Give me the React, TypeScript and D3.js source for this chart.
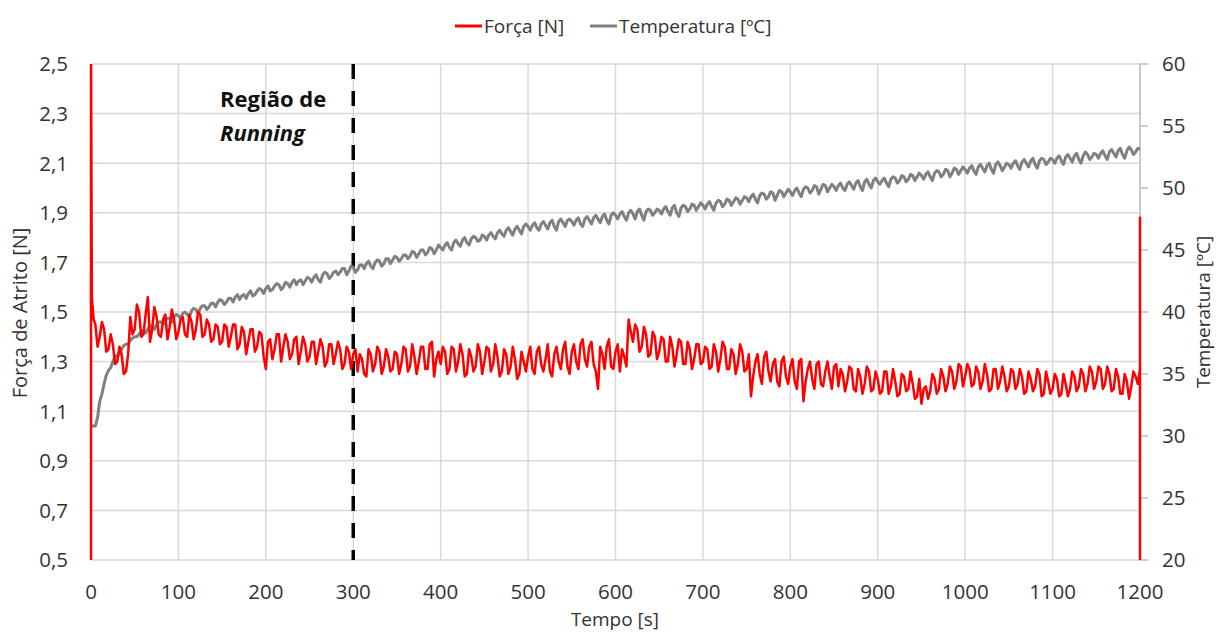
import React from "react";
import * as d3 from "d3";

// ---------- DATA ----------
const xTicks = [0, 100, 200, 300, 400, 500, 600, 700, 800, 900, 1000, 1100, 1200];
const leftTicks = [0.5, 0.7, 0.9, 1.1, 1.3, 1.5, 1.7, 1.9, 2.1, 2.3, 2.5];
const rightTicks = [20, 25, 30, 35, 40, 45, 50, 55, 60];

const sampleStep = 5; // seconds between samples of each list

// Força [N] - edge points at start (time, value)
const forceStartTimes = [0, 0, 1, 3];
const forceStartValues = [0.5, 2.6, 1.56, 1.47];
// Força [N] at t = 5, 10, ..., 1200
const forceValues = [
  1.45, 1.40, 1.43, 1.35, 1.37, 1.30, 1.33, 1.26, 1.48, 1.43,
  1.50, 1.41, 1.56, 1.43, 1.48, 1.40, 1.49, 1.44, 1.47, 1.42,
  1.48, 1.40, 1.46, 1.43, 1.49, 1.41, 1.45, 1.39, 1.44, 1.38,
  1.44, 1.40, 1.45, 1.37, 1.42, 1.38, 1.43, 1.36, 1.41, 1.27,
  1.39, 1.35, 1.41, 1.36, 1.38, 1.33, 1.40, 1.34, 1.37, 1.32,
  1.38, 1.34, 1.36, 1.30, 1.37, 1.33, 1.35, 1.29, 1.34, 1.33,
  1.26, 1.31, 1.24, 1.33, 1.29, 1.34, 1.28, 1.32, 1.27, 1.33,
  1.29, 1.35, 1.28, 1.32, 1.30, 1.36, 1.27, 1.38, 1.31, 1.29,
  1.34, 1.27, 1.35, 1.30, 1.33, 1.25, 1.32, 1.28, 1.34, 1.30,
  1.35, 1.29, 1.32, 1.26, 1.33, 1.28, 1.31, 1.25, 1.30, 1.32,
  1.27, 1.34, 1.29, 1.31, 1.26, 1.33, 1.30, 1.35, 1.28, 1.34,
  1.30, 1.37, 1.31, 1.36, 1.29, 1.19, 1.33, 1.36, 1.28, 1.34,
  1.26, 1.32, 1.47, 1.38, 1.43, 1.36, 1.41, 1.33, 1.40, 1.34,
  1.39, 1.30, 1.36, 1.33, 1.38, 1.29, 1.35, 1.31, 1.37, 1.30,
  1.35, 1.28, 1.34, 1.31, 1.36, 1.27, 1.33, 1.29, 1.34, 1.27,
  1.16, 1.30, 1.25, 1.32, 1.26, 1.29, 1.22, 1.30, 1.24, 1.28,
  1.22, 1.30, 1.14, 1.27, 1.23, 1.29, 1.21, 1.26, 1.24, 1.28,
  1.20, 1.25, 1.22, 1.27, 1.18, 1.24, 1.21, 1.26, 1.19, 1.23,
  1.18, 1.26, 1.20, 1.22, 1.17, 1.24, 1.19, 1.21, 1.16, 1.13,
  1.20, 1.18, 1.23, 1.19, 1.24, 1.21, 1.26, 1.22, 1.28, 1.24,
  1.27, 1.21, 1.26, 1.22, 1.25, 1.19, 1.27, 1.22, 1.24, 1.20,
  1.26, 1.21, 1.24, 1.18, 1.23, 1.20, 1.25, 1.17, 1.22, 1.19,
  1.23, 1.17, 1.21, 1.19, 1.24, 1.20, 1.25, 1.21, 1.26, 1.22,
  1.27, 1.21, 1.25, 1.19, 1.24, 1.17, 1.22, 1.20, 1.24, 1.27,
];
// Força [N] at t = 7.5, 12.5, ..., 1197.5
const forceMidValues = [
  1.36, 1.46, 1.34, 1.41, 1.29, 1.36, 1.25, 1.33, 1.41, 1.53,
  1.40, 1.49, 1.38, 1.52, 1.41, 1.47, 1.39, 1.51, 1.39, 1.47,
  1.41, 1.49, 1.39, 1.50, 1.40, 1.47, 1.38, 1.45, 1.37, 1.45,
  1.36, 1.45, 1.35, 1.44, 1.33, 1.43, 1.34, 1.42, 1.32, 1.38,
  1.31, 1.41, 1.30, 1.41, 1.31, 1.39, 1.29, 1.40, 1.30, 1.38,
  1.29, 1.39, 1.28, 1.37, 1.29, 1.38, 1.27, 1.36, 1.27, 1.35,
  1.33, 1.25, 1.35, 1.26, 1.36, 1.25, 1.35, 1.26, 1.34, 1.25,
  1.36, 1.26, 1.37, 1.25, 1.36, 1.27, 1.37, 1.24, 1.34, 1.36,
  1.25, 1.36, 1.26, 1.37, 1.24, 1.35, 1.26, 1.37, 1.25, 1.36,
  1.26, 1.37, 1.24, 1.35, 1.25, 1.36, 1.23, 1.34, 1.26, 1.36,
  1.25, 1.36, 1.26, 1.37, 1.24, 1.36, 1.27, 1.38, 1.25, 1.37,
  1.27, 1.39, 1.28, 1.38, 1.26, 1.36, 1.27, 1.39, 1.27, 1.37,
  1.35, 1.28, 1.42, 1.45, 1.34, 1.44, 1.32, 1.42, 1.31, 1.40,
  1.30, 1.40, 1.28, 1.39, 1.29, 1.38, 1.27, 1.37, 1.29, 1.36,
  1.27, 1.37, 1.26, 1.38, 1.27, 1.35, 1.25, 1.37, 1.26, 1.33,
  1.24, 1.33, 1.21, 1.34, 1.22, 1.31, 1.20, 1.32, 1.21, 1.31,
  1.19, 1.31, 1.22, 1.30, 1.19, 1.30, 1.20, 1.30, 1.19, 1.29,
  1.27, 1.18, 1.28, 1.19, 1.27, 1.17, 1.28, 1.18, 1.26, 1.17,
  1.26, 1.17, 1.27, 1.16, 1.25, 1.18, 1.26, 1.15, 1.23, 1.19,
  1.15, 1.25, 1.17, 1.27, 1.18, 1.28, 1.19, 1.29, 1.20, 1.29,
  1.20, 1.28, 1.19, 1.29, 1.18, 1.27, 1.19, 1.28, 1.18, 1.27,
  1.19, 1.27, 1.17, 1.26, 1.18, 1.27, 1.16, 1.26, 1.17, 1.25,
  1.16, 1.25, 1.16, 1.26, 1.18, 1.27, 1.18, 1.28, 1.19, 1.28,
  1.19, 1.28, 1.18, 1.27, 1.17, 1.25, 1.15, 1.26, 1.21,
];
// Força [N] - edge points at the end (all at t=1200)
const forceEndTimes = [1200, 1200, 1200];
const forceEndValues = [1.88, 1.03, 0.5];

// Temperatura [ºC] at t = 0, 5, ..., 1200
const tempValues = [
  30.8, 30.8, 32.8, 34.2, 35.3, 36.0, 36.5, 37.0, 37.4, 37.7,
  38.0, 38.2, 38.5, 38.6, 38.9, 39.0, 39.2, 39.3, 39.5, 39.6,
  39.7, 39.9, 39.8, 40.1, 40.2, 40.3, 40.5, 40.4, 40.7, 40.8,
  40.9, 40.8, 41.1, 41.2, 41.0, 41.4, 41.5, 41.3, 41.7, 41.8,
  41.9, 41.7, 42.1, 42.2, 42.0, 42.3, 42.4, 42.2, 42.6, 42.5,
  42.7, 42.8, 42.6, 43.0, 43.1, 42.9, 43.3, 43.2, 43.5, 43.3,
  43.6, 43.4, 43.8, 43.9, 43.7, 44.0, 44.1, 43.9, 44.3, 44.2,
  44.4, 44.3, 44.6, 44.5, 44.8, 44.7, 45.0, 44.8, 45.1, 45.0,
  45.2, 45.4, 45.2, 45.6, 45.5, 45.8, 45.6, 45.9, 46.0, 45.8,
  46.1, 46.2, 46.1, 46.4, 46.3, 46.6, 46.5, 46.7, 46.6, 46.9,
  46.9, 47.0, 46.8, 47.1, 47.0, 47.2, 46.9, 47.3, 47.2, 47.4,
  47.3, 47.4, 47.1, 47.5, 47.4, 47.6, 47.5, 47.7, 47.4, 47.8,
  47.8, 47.9, 47.7, 48.0, 47.9, 48.1, 47.8, 48.1, 48.2, 48.0,
  48.2, 48.3, 48.1, 48.4, 48.0, 48.4, 48.5, 48.3, 48.6, 48.5,
  48.6, 48.7, 48.5, 48.8, 48.9, 48.7, 49.0, 48.9, 49.1, 49.0,
  49.2, 49.3, 49.1, 49.4, 49.5, 49.3, 49.6, 49.4, 49.7, 49.6,
  49.7, 49.8, 49.6, 49.9, 50.0, 49.8, 50.1, 49.9, 50.2, 50.0,
  50.1, 50.2, 50.0, 50.3, 50.2, 50.4, 50.1, 50.5, 50.3, 50.6,
  50.5, 50.6, 50.4, 50.7, 50.8, 50.6, 50.9, 50.7, 51.0, 50.9,
  51.0, 51.1, 50.9, 51.2, 51.3, 51.1, 51.4, 51.2, 51.5, 51.4,
  51.5, 51.6, 51.4, 51.7, 51.6, 51.8, 51.5, 51.9, 51.8, 51.7,
  51.9, 52.0, 51.8, 52.1, 52.0, 52.2, 51.9, 52.2, 52.3, 52.1,
  52.3, 52.4, 52.2, 52.5, 52.4, 52.6, 52.3, 52.6, 52.7, 52.5,
  52.7, 52.8, 52.6, 52.9, 52.8, 53.0, 52.7, 53.0, 53.1, 52.9,
  53.1,
];
// Temperatura [ºC] at t = 2.5, 7.5, ..., 1197.5
const tempMidValues = [
  30.8, 31.5, 33.4, 34.9, 35.5, 36.4, 36.6, 37.3, 37.4, 37.9,
  38.0, 38.4, 38.3, 38.9, 38.6, 39.2, 39.0, 39.5, 39.2, 39.8,
  39.5, 40.0, 39.6, 40.3, 39.9, 40.5, 40.2, 40.7, 40.4, 41.0,
  40.6, 41.1, 40.8, 41.4, 41.3, 41.1, 41.7, 41.4, 41.9, 41.5,
  42.1, 41.8, 42.3, 41.8, 42.4, 42.0, 42.6, 42.5, 42.2, 42.8,
  42.4, 43.0, 42.4, 43.2, 42.7, 43.2, 43.0, 43.5, 43.0, 43.7,
  43.2, 43.8, 43.5, 44.1, 43.5, 44.2, 43.7, 44.3, 43.9, 44.5,
  44.1, 44.6, 44.3, 44.9, 44.4, 45.0, 44.6, 45.2, 44.7, 45.4,
  45.0, 45.6, 45.0, 45.8, 45.3, 46.0, 45.4, 46.1, 45.7, 46.2,
  45.8, 46.4, 45.9, 46.6, 46.1, 46.8, 46.2, 46.9, 46.3, 47.1,
  46.6, 47.2, 46.6, 47.3, 46.7, 47.4, 46.6, 47.5, 46.9, 47.5,
  47.0, 47.6, 46.9, 47.7, 47.1, 47.8, 47.2, 47.9, 47.1, 48.0,
  47.5, 48.1, 47.4, 48.2, 47.5, 48.3, 47.4, 48.3, 47.8, 48.3,
  47.9, 48.5, 47.8, 48.6, 47.7, 48.6, 48.1, 48.7, 48.2, 48.8,
  48.3, 48.9, 48.2, 49.0, 48.5, 49.1, 48.6, 49.2, 48.7, 49.3,
  48.9, 49.5, 48.8, 49.6, 49.1, 49.7, 49.0, 49.8, 49.3, 49.9,
  49.4, 50.0, 49.3, 50.1, 49.6, 50.2, 49.5, 50.3, 49.7, 50.3,
  49.8, 50.4, 49.8, 50.5, 49.9, 50.6, 49.8, 50.7, 50.0, 50.8,
  50.3, 50.8, 50.1, 50.9, 50.4, 51.0, 50.5, 51.1, 50.6, 51.2,
  50.7, 51.3, 50.6, 51.4, 50.9, 51.5, 50.9, 51.6, 51.1, 51.7,
  51.2, 51.8, 51.1, 51.9, 51.3, 52.0, 51.2, 52.1, 51.4, 52.0,
  51.6, 52.2, 51.5, 52.3, 51.7, 52.4, 51.6, 52.4, 51.9, 52.4,
  52.0, 52.6, 51.9, 52.7, 52.1, 52.8, 52.0, 52.9, 52.3, 52.8,
  52.4, 53.0, 52.3, 53.1, 52.5, 53.2, 52.4, 53.3, 52.7, 53.2,
];

const markerTime = 300;
const seriesNames = ["Força [N]", "Temperatura [ºC]"];
const seriesColors = ["#ff0000", "#808080"];

// ---------- CHART ----------
const W = 1218;
const H = 633;
const M = { left: 91, right: 1140, top: 64, bottom: 560 };
const FONT = "'Open Sans', 'Noto Sans', sans-serif";
const TEXT = "#333333";
const GRID = "#d9d9d9";

const fmt1 = (v: number) => d3.format(".1f")(v).replace(".", ",");

type P = [number, number];

export default function App() {
  const x = d3.scaleLinear().domain([0, 1200]).range([M.left, M.right]);
  const yL = d3.scaleLinear().domain([0.5, 2.5]).range([M.bottom, M.top]);
  const yR = d3.scaleLinear().domain([20, 60]).range([M.bottom, M.top]);

  const forceBody: P[] = d3.sort(
    [
      ...forceValues.map((v, i) => [(i + 1) * sampleStep, v] as P),
      ...forceMidValues.map((v, i) => [(i + 1) * sampleStep + sampleStep / 2, v] as P),
    ],
    (d) => d[0]
  );
  const forcePts: P[] = [
    ...forceStartTimes.map((t, i) => [t, forceStartValues[i]] as P),
    ...forceBody,
    ...forceEndTimes.map((t, i) => [t, forceEndValues[i]] as P),
  ];
  const tempPts: P[] = d3.sort(
    [
      ...tempValues.map((v, i) => [i * sampleStep, v] as P),
      ...tempMidValues.map((v, i) => [i * sampleStep + sampleStep / 2, v] as P),
    ],
    (d) => d[0]
  );

  const forceLine = d3.line<P>().x((d) => x(d[0])).y((d) => yL(d[1]));
  const tempLine = d3.line<P>().x((d) => x(d[0])).y((d) => yR(d[1]));

  return (
    <svg
      width={W}
      height={H}
      style={{ position: "absolute", left: 0, top: 0, background: "#fff" }}
      fontFamily={FONT}
    >
      <defs>
        <clipPath id="plot">
          <rect x={M.left - 3} y={M.top} width={M.right - M.left + 6} height={M.bottom - M.top} />
        </clipPath>
      </defs>
      <rect x={0} y={0} width={W} height={H} fill="#fff" />

      {leftTicks.map((t) => (
        <line key={"hg" + t} x1={M.left} x2={M.right} y1={yL(t)} y2={yL(t)} stroke={GRID} strokeWidth={1.5} />
      ))}
      {xTicks.map((t) => (
        <line key={"vg" + t} x1={x(t)} x2={x(t)} y1={M.top} y2={M.bottom} stroke={GRID} strokeWidth={1.5} />
      ))}

      <line x1={M.right} x2={M.right} y1={M.top} y2={M.bottom} stroke="#bfbfbf" strokeWidth={1.5} />
      {rightTicks.map((t) => (
        <line key={"rt" + t} x1={M.right} x2={M.right + 8} y1={yR(t)} y2={yR(t)} stroke="#bfbfbf" strokeWidth={1.5} />
      ))}

      <line
        x1={x(markerTime)}
        x2={x(markerTime)}
        y1={M.top}
        y2={M.bottom}
        stroke="#000"
        strokeWidth={3.5}
        strokeDasharray="15 12"
      />

      <g clipPath="url(#plot)">
        <path d={tempLine(tempPts) || ""} fill="none" stroke={seriesColors[1]} strokeWidth={3} strokeLinejoin="round" />
        <path d={forceLine(forcePts) || ""} fill="none" stroke={seriesColors[0]} strokeWidth={2.5} strokeLinejoin="round" />
      </g>

      <text x={220} y={107} fontSize={22} fontWeight="bold" fill="#111">Região de</text>
      <text x={220} y={141} fontSize={22} fontWeight="bold" fontStyle="italic" fill="#111">Running</text>

      {leftTicks.map((t) => (
        <text key={"lt" + t} x={68} y={yL(t)} dy="0.36em" textAnchor="end" fontSize={20.5} fill={TEXT}>
          {fmt1(t)}
        </text>
      ))}
      {rightTicks.map((t) => (
        <text key={"rl" + t} x={1162} y={yR(t)} dy="0.36em" textAnchor="start" fontSize={20.5} fill={TEXT}>
          {t}
        </text>
      ))}
      {xTicks.map((t) => (
        <text key={"xt" + t} x={x(t)} y={599} textAnchor="middle" fontSize={20.5} fill={TEXT}>
          {t}
        </text>
      ))}

      <text x={615} y={626} textAnchor="middle" fontSize={19} fill={TEXT}>Tempo [s]</text>
      <text transform={`translate(27,${313}) rotate(-90)`} textAnchor="middle" fontSize={20} fill={TEXT}>
        Força de Atrito [N]
      </text>
      <text transform={`translate(1210,${312}) rotate(-90)`} textAnchor="middle" fontSize={19} fill={TEXT}>
        Temperatura [ºC]
      </text>

      <line x1={455} x2={482} y1={26} y2={26} stroke={seriesColors[0]} strokeWidth={3} />
      <text x={484} y={33} fontSize={19} fill={TEXT}>{seriesNames[0]}</text>
      <line x1={590} x2={617} y1={26} y2={26} stroke={seriesColors[1]} strokeWidth={3} />
      <text x={619} y={33} fontSize={19} fill={TEXT}>{seriesNames[1]}</text>
    </svg>
  );
}
